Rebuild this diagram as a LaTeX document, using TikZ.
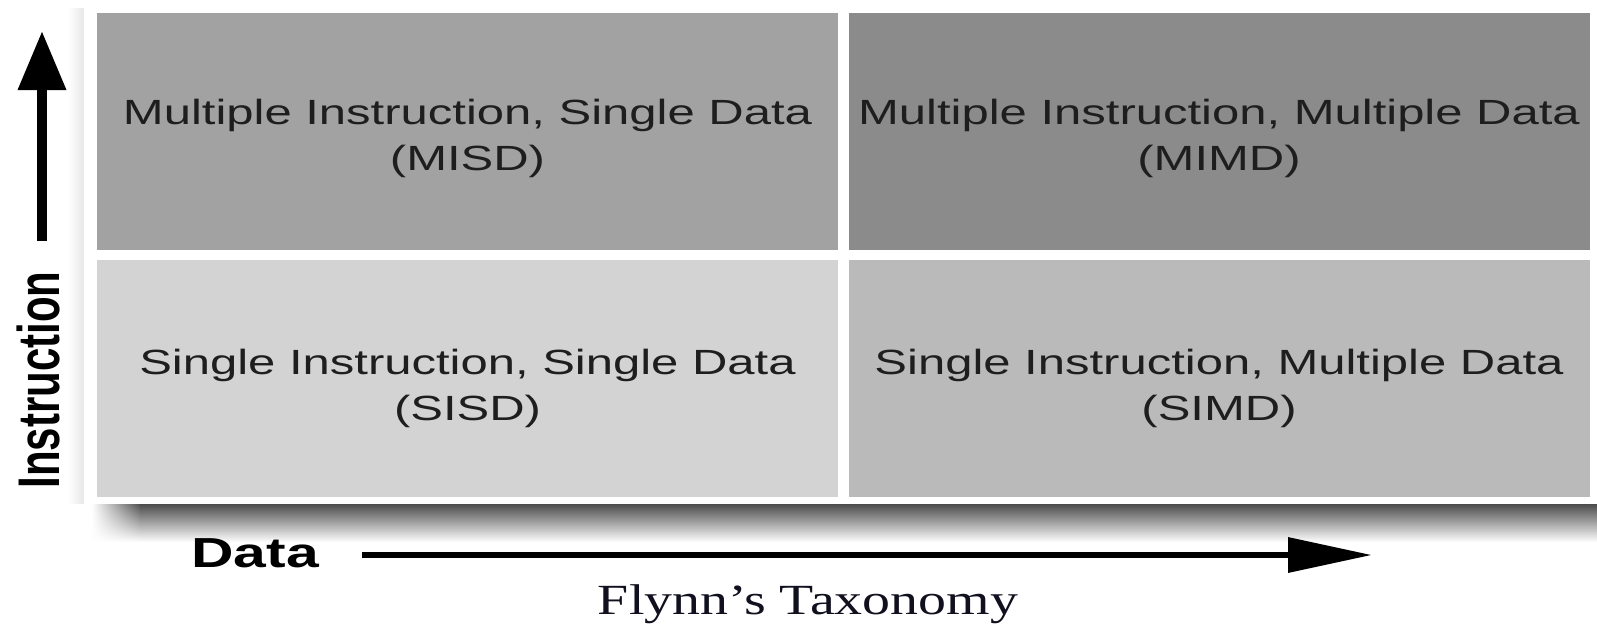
\documentclass[tikz,border=0pt]{standalone}
\usepackage{fontspec}
\setmainfont{Liberation Serif}
\newfontfamily\arialfont{Liberation Sans}
\usepackage{graphicx}
\usetikzlibrary{arrows.meta,fadings}
\definecolor{misdc}{HTML}{A2A2A2}
\definecolor{mimdc}{HTML}{8B8B8B}
\definecolor{sisdc}{HTML}{D3D3D3}
\definecolor{simdc}{HTML}{BABABA}
\definecolor{txtc}{HTML}{1E1E1E}
\definecolor{capc}{HTML}{10101E}
\newcommand\wide[1]{\scalebox{1.4}[1]{#1}}
\tikzfading[name=fadeinleft, left color=transparent!100, right color=transparent!0]
\tikzset{
 cellbox/.style={draw=none, minimum width=370.5pt, minimum height=118.5pt, inner sep=0pt},
 celltext/.style={font=\arialfont\fontsize{17.5}{23}\selectfont, text=txtc, align=center, inner sep=0pt},
 axislabel/.style={font=\arialfont\bfseries\fontsize{21}{25}\selectfont, text=black, inner sep=0pt},
 vaxis/.style={line width=5pt, -{Triangle[length=29.5pt,width=23pt]}},
 haxis/.style={line width=3.25pt, -{Triangle[length=42pt,width=17pt]}},
 captext/.style={font=\fontsize{21.5}{25}\selectfont, text=capc, inner sep=0pt},
}
\begin{document}
\begin{tikzpicture}[x=0.5pt,y=-0.5pt]
\useasboundingbox (0,0) rectangle (1597,623);
\fill[white] (0,0) rectangle (1597,623);
% shadows of the panel
\shade[top color=black!72, bottom color=white] (140,503) rectangle (1597,542);
\shade[top color=black!72, bottom color=white, path fading=fadeinleft] (92,503) rectangle (141,542);
\shade[left color=white, right color=black!10] (68,8) rectangle (85,503);
% white panel
\fill[white] (84,3) rectangle (1597,504);
% cells
\node[cellbox, fill=misdc] (misd) at (467.5,131) {};
\node[cellbox, fill=mimdc] (mimd) at (1219,131) {};
\node[cellbox, fill=sisdc] (sisd) at (467.5,378) {};
\node[cellbox, fill=simdc] (simd) at (1219,378) {};
\node[celltext] (misdt) at ([yshift=-3.5pt]misd.center) {\wide{Multiple Instruction, Single Data}\\\wide{(MISD)}};
\node[celltext] (mimdt) at ([yshift=-3.5pt]mimd.center) {\wide{Multiple Instruction, Multiple Data}\\\wide{(MIMD)}};
\node[celltext] (sisdt) at ([yshift=-5pt]sisd.center) {\wide{Single Instruction, Single Data}\\\wide{(SISD)}};
\node[celltext] (simdt) at ([yshift=-5pt]simd.center) {\wide{Single Instruction, Multiple Data}\\\wide{(SIMD)}};
% axes
\coordinate (vstart) at (42,241);
\coordinate (vend) at (42,31);
\draw[vaxis] (vstart) -- (vend);
\node[axislabel] (instr) at (38,380) {\scalebox{1.4}[1]{\rotatebox{90}{Instruction}}};
\node[axislabel] (data) at (255,553) {\wide{Data}};
\coordinate (hstart) at (362,555);
\coordinate (hend) at (1372,555);
\draw[haxis] (hstart) -- (hend);
\node[captext] (cap) at (808,604) {\scalebox{1.3}[1]{Flynn’s Taxonomy}};
\end{tikzpicture}
\end{document}
